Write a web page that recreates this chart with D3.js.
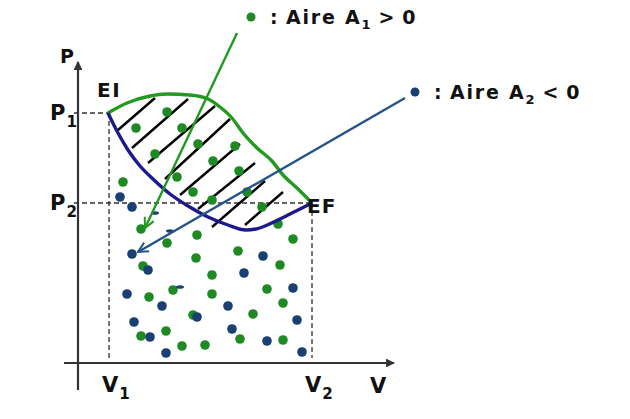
<!DOCTYPE html>
<html><head><meta charset="utf-8">
<script src="https://cdn.jsdelivr.net/npm/d3@7"></script>
<style>
html,body{margin:0;padding:0;background:#fff;}
svg{display:block;}
text{font-family:"DejaVu Sans","Liberation Sans",sans-serif;font-weight:bold;fill:#111;}
</style></head>
<body>
<svg id="chart" width="630" height="419"></svg>
<script>
// ---- data (units: arbitrary V / P units) ----
const V1 = 31, V2 = 234;
const P1 = 250, P2 = 160;
const xTickValues = [V1, V2];
const xTickSubs = ["1", "2"];
const yTickValues = [P1, P2];
const yTickSubs = ["1", "2"];
// upper path EI -> EF (green)
const greenCurveV = [30, 49, 72, 89, 112, 130, 142, 154, 165, 179, 194, 205, 219, 234];
const greenCurveP = [250, 260, 267, 269, 268, 264, 256, 245, 230, 215, 202, 188, 175, 160];
// lower path EI -> EF (blue)
const blueCurveV = [30, 40, 50, 62, 76, 92, 110, 130, 150, 168, 178, 198, 216, 234];
const blueCurveP = [250, 230, 213, 197, 183, 169, 157, 146, 138, 133, 134, 142, 151, 160];
// hatching segments (start / end)
const hatchV0 = [40, 54, 70, 87, 102, 120, 134, 167];
const hatchP0 = [233, 215, 200, 184, 168, 154, 136, 138];
const hatchV1 = [77, 110, 137, 152, 162, 177, 187, 205];
const hatchP1 = [265, 264, 257, 244, 219, 200, 182, 171];
// green dots (A1 > 0)
const greenV = [89,58,104,120,157,77,135,161,99,45,115,169,134,184,200,215,63,119,89,160,118,65,202,134,95,189,71,134,205,175,115,88,63,162,205,104,127];
const greenP = [251,235,235,219,217,209,202,192,186,181,171,171,163,156,139,124,134,128,120,112,105,97,98,88,73,74,66,69,60,49,48,32,27,24,23,17,18];
// blue dots (A2 < 0)
const blueV = [42,54,54,70,185,166,49,215,84,150,119,56,219,154,72,189,88,224];
const blueP = [166,156,109,93,107,90,69,75,57,57,46,41,43,34,26,22,10,11];
const blueFragV = [77, 92, 102];
const blueFragP = [150, 132, 76];
// legend arrows (from legend towards region)
const greenArrowV = [159, 67];
const greenArrowP = [330, 135];
const blueArrowV = [327, 60];
const blueArrowP = [265, 111];

// ---- drawing ----
const svg = d3.select("#chart");
const x = d3.scaleLinear().domain([0, 300]).range([78, 378]);
const y = d3.scaleLinear().domain([0, 300]).range([363, 63]);

const GREEN_DOT = "#1f8a24", BLUE_DOT = "#1a3f73";
const GREEN_LINE = "#22991f", BLUE_LINE = "#1a1a8c";
const ARROW_BLUE = "#24528a", AXIS = "#333";

const defs = svg.append("defs");
defs.append("marker").attr("id","axisHead").attr("viewBox","0 0 10 10")
  .attr("refX",9).attr("refY",5).attr("markerWidth",4).attr("markerHeight",4)
  .attr("orient","auto").append("path").attr("d","M0,0L10,5L0,10Z").attr("fill",AXIS);
[["gHead",GREEN_LINE],["bHead",ARROW_BLUE]].forEach(([id,c])=>{
  defs.append("marker").attr("id",id).attr("viewBox","0 0 12 12")
    .attr("refX",11).attr("refY",6).attr("markerWidth",5).attr("markerHeight",5)
    .attr("markerUnits","strokeWidth").attr("orient","auto")
    .append("path").attr("d","M1,1L11,6L1,11").attr("fill","none").attr("stroke",c).attr("stroke-width",2);
});

// axes
svg.append("line").attr("x1",x(-14)).attr("x2",x(316)).attr("y1",y(0)).attr("y2",y(0))
  .attr("stroke",AXIS).attr("stroke-width",2.2).attr("marker-end","url(#axisHead)");
svg.append("line").attr("x1",x(0)).attr("x2",x(0)).attr("y1",y(-27)).attr("y2",y(301))
  .attr("stroke",AXIS).attr("stroke-width",2.2).attr("marker-end","url(#axisHead)");

// dashed guides
const dash = svg.append("g").attr("stroke","#333").attr("stroke-width",1.3).attr("stroke-dasharray","5,3").attr("fill","none");
dash.append("line").attr("x1",x(-4)).attr("x2",x(V1)).attr("y1",y(P1)).attr("y2",y(P1));
dash.append("line").attr("x1",x(-4)).attr("x2",x(V2)).attr("y1",y(P2)).attr("y2",y(P2));
dash.append("line").attr("x1",x(V1)).attr("x2",x(V1)).attr("y1",y(P1)).attr("y2",y(5));
dash.append("line").attr("x1",x(V2)).attr("x2",x(V2)).attr("y1",y(P2)).attr("y2",y(5));

// hatching
svg.append("g").attr("stroke","#000").attr("stroke-width",2.4)
  .selectAll("line").data(hatchV0).join("line")
  .attr("x1",(d,i)=>x(hatchV0[i])).attr("y1",(d,i)=>y(hatchP0[i]))
  .attr("x2",(d,i)=>x(hatchV1[i])).attr("y2",(d,i)=>y(hatchP1[i]));

// dots
svg.append("g").selectAll("circle").data(greenV).join("circle")
  .attr("cx",(d,i)=>x(greenV[i])).attr("cy",(d,i)=>y(greenP[i])).attr("r",4.8).attr("fill",GREEN_DOT);
svg.append("g").selectAll("circle").data(blueV).join("circle")
  .attr("cx",(d,i)=>x(blueV[i])).attr("cy",(d,i)=>y(blueP[i])).attr("r",4.8).attr("fill",BLUE_DOT);
svg.append("g").selectAll("ellipse").data(blueFragV).join("ellipse")
  .attr("cx",(d,i)=>x(blueFragV[i])).attr("cy",(d,i)=>y(blueFragP[i])).attr("rx",4).attr("ry",1.8).attr("fill",BLUE_DOT);

// curves
const line = d3.line().curve(d3.curveMonotoneX);
svg.append("path").attr("d",line(greenCurveV.map((v,i)=>[x(v),y(greenCurveP[i])])))
  .attr("fill","none").attr("stroke",GREEN_LINE).attr("stroke-width",3.4).attr("stroke-linejoin","round");
svg.append("path").attr("d",line(blueCurveV.map((v,i)=>[x(v),y(blueCurveP[i])])))
  .attr("fill","none").attr("stroke",BLUE_LINE).attr("stroke-width",3.4).attr("stroke-linejoin","round");

// legend arrows
svg.append("line").attr("x1",x(greenArrowV[0])).attr("y1",y(greenArrowP[0]))
  .attr("x2",x(greenArrowV[1])).attr("y2",y(greenArrowP[1]))
  .attr("stroke",GREEN_LINE).attr("stroke-width",2.4).attr("marker-end","url(#gHead)");
svg.append("line").attr("x1",x(blueArrowV[0])).attr("y1",y(blueArrowP[0]))
  .attr("x2",x(blueArrowV[1])).attr("y2",y(blueArrowP[1]))
  .attr("stroke",ARROW_BLUE).attr("stroke-width",2.4).attr("marker-end","url(#bHead)");

// labels with subscripts
function subLabel(g, px, py, main, sub, size){
  const t = g.append("text").attr("x",px).attr("y",py).attr("font-size",size);
  t.append("tspan").text(main);
  t.append("tspan").attr("dx",1).attr("dy",size*0.32).attr("font-size",size*0.72).text(sub);
  return t;
}
const labels = svg.append("g");
xTickValues.forEach((v,i)=>subLabel(labels, x(v)-7, y(0)+29, "V", xTickSubs[i], 21));
yTickValues.forEach((p,i)=>subLabel(labels, x(0)-28, y(p)+7, "P", yTickSubs[i], 21));
labels.append("text").attr("x",x(0)-18).attr("y",y(0)-300).attr("font-size",19).text("P");
labels.append("text").attr("x",x(300)-8).attr("y",y(0)+30).attr("font-size",21).text("V");
labels.append("text").attr("x",x(V1)-12).attr("y",y(P1)-16).attr("font-size",20).attr("letter-spacing",1.5).text("EI");
labels.append("text").attr("x",x(V2)-5).attr("y",y(P2)+10).attr("font-size",20).attr("letter-spacing",1).text("EF");

// legends
function legend(px, py, color, sub, rel){
  const g = svg.append("g");
  g.append("circle").attr("cx",px).attr("cy",py).attr("r",4.5).attr("fill",color);
  g.append("text").attr("x",px+19).attr("y",py+7).attr("font-size",19).text(":");
  const t = g.append("text").attr("x",px+35).attr("y",py+7).attr("font-size",19).attr("letter-spacing",1.8);
  t.append("tspan").text("Aire A");
  t.append("tspan").attr("dy",5).attr("font-size",13).text(sub);
  t.append("tspan").attr("dy",-5).attr("dx",6).text(rel);
  t.append("tspan").attr("dx",6).text("0");
}
legend(251, 17, GREEN_DOT, "1", ">");
legend(415, 92, BLUE_DOT, "2", "<");
</script>
</body></html>
